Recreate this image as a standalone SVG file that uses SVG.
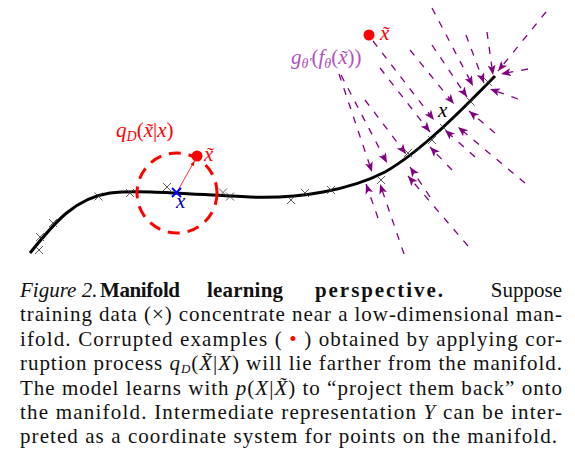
<svg xmlns="http://www.w3.org/2000/svg" width="575" height="463" viewBox="0 0 575 463">
<defs>
<marker id="ah" markerUnits="userSpaceOnUse" markerWidth="12" markerHeight="10" refX="10" refY="4" orient="auto">
<path d="M0,0 L10,4 L0,8 L2.5,4 z" fill="#800080"/>
</marker>
<marker id="ahr" markerUnits="userSpaceOnUse" markerWidth="6" markerHeight="6" refX="5" refY="2" orient="auto">
<path d="M0,0 L5,2 L0,4 z" fill="#ff0000"/>
</marker>
<style>
.proj{stroke:#800080;stroke-width:1.3;stroke-dasharray:7 8;fill:none;marker-end:url(#ah)}
.xm{stroke:#333;stroke-width:0.8;fill:none}
.cap{font-family:"Liberation Serif","DejaVu Serif",serif;font-size:21px;fill:#111}
.lbl{font-family:"Liberation Serif","DejaVu Serif",serif;font-size:21px}
.it{font-style:italic}
</style>
</defs>
<rect width="575" height="463" fill="#fff"/>

<g id="manifold">
<path d="M30,253 C55,222 75,198 110,193 C140,189 200,195 250,197 C300,199 350,190 385,172 C420,152 460,112 495,76" fill="none" stroke="#000" stroke-width="3"/>
</g>

<g id="training-points">
<path class="xm" d="M35,246l8,8m0,-8l-8,8 M36,233l8,8m0,-8l-8,8 M49,219l8,8m0,-8l-8,8 M94.5,192.5l8,8m0,-8l-8,8 M126,189l8,8m0,-8l-8,8 M163,183l8,8m0,-8l-8,8 M219,188.5l8,8m0,-8l-8,8 M226,192.5l8,8m0,-8l-8,8 M287,196l8,8m0,-8l-8,8 M301,189l8,8m0,-8l-8,8 M327,186l8,8m0,-8l-8,8 M377,176l8,8m0,-8l-8,8 M404,149l8,8m0,-8l-8,8 M428,136l8,8m0,-8l-8,8 M440,124l8,8m0,-8l-8,8 M466.5,97.5l8,8m0,-8l-8,8 M484,78l8,8m0,-8l-8,8"/>
</g>

<g id="corruption">
<circle cx="177" cy="193" r="40" fill="none" stroke="#ff0000" stroke-width="3" stroke-dasharray="12 8"/>
<line x1="177" y1="192" x2="194.5" y2="161" stroke="#ff0000" stroke-width="0.8" marker-end="url(#ahr)"/>
<circle cx="197" cy="156" r="5.5" fill="#ff0000"/>
<path d="M172,188l9,9m0,-9l-9,9" stroke="#0000ff" stroke-width="2" fill="none"/>
<text class="lbl it" x="176" y="208" fill="#0000aa">x</text>
<text class="lbl it" x="204" y="161" fill="#ff0000">x̃</text>
<text class="lbl" x="116" y="137" fill="#ff0000"><tspan class="it">q</tspan><tspan font-size="14" dy="4" class="it">D</tspan><tspan dy="-4">(</tspan><tspan class="it">x̃</tspan>|<tspan class="it">x</tspan>)</text>
</g>

<g id="corrupted-top">
<circle cx="369" cy="35" r="5.5" fill="#ff0000"/>
<text class="lbl it" x="380" y="40" fill="#ff0000">x̃</text>
</g>

<g id="reconstruction-label">
<text class="lbl" x="291" y="64" fill="#b050c0"><tspan class="it">g</tspan><tspan font-size="14" dy="4" class="it">θ′</tspan><tspan dy="-4">(</tspan><tspan class="it">f</tspan><tspan font-size="14" dy="4" class="it">θ</tspan><tspan dy="-4">(</tspan><tspan class="it">x̃</tspan>))</text>
<text class="lbl it" x="438" y="117" fill="#000">x</text>
</g>

<g id="connectors">
<line class="proj" x1="339" y1="74" x2="372" y2="172"/>
<line class="proj" x1="341" y1="75" x2="387" y2="163"/>
<line class="proj" x1="373" y1="41" x2="434" y2="120"/>
<line class="proj" x1="380" y1="68" x2="430" y2="132"/>
<line class="proj" x1="365" y1="100" x2="406" y2="154"/>
<line class="proj" x1="432" y1="45" x2="467" y2="97"/>
<line class="proj" x1="410" y1="50" x2="454" y2="104"/>
<line class="proj" x1="432" y1="8" x2="473" y2="86"/>
<line class="proj" x1="466" y1="35" x2="484" y2="83"/>
<line class="proj" x1="487" y1="32" x2="493" y2="75"/>
<line class="proj" x1="546" y1="12" x2="498" y2="71"/>
<line class="proj" x1="528" y1="69" x2="501" y2="74"/>
<line class="proj" x1="518" y1="99" x2="490" y2="89"/>
<line class="proj" x1="495" y1="133" x2="469" y2="111"/>
<line class="proj" x1="525" y1="183" x2="458" y2="127"/>
<line class="proj" x1="475" y1="157" x2="445" y2="130"/>
<line class="proj" x1="452" y1="170" x2="430" y2="147"/>
<line class="proj" x1="468" y1="246" x2="408" y2="176"/>
<line class="proj" x1="430" y1="197" x2="410" y2="167"/>
<line class="proj" x1="378" y1="218" x2="366" y2="184"/>
<line class="proj" x1="404" y1="254" x2="380" y2="184"/>
</g>

<g id="caption">
<text class="cap it" x="20" y="297">Figure 2.</text>
<text class="cap" x="100" y="297" font-weight="bold" textLength="80" lengthAdjust="spacing">Manifold</text>
<text class="cap" x="207" y="297" font-weight="bold" textLength="76" lengthAdjust="spacing">learning</text>
<text class="cap" x="315" y="297" font-weight="bold" textLength="128" lengthAdjust="spacing">perspective.</text>
<text class="cap" x="562" y="297" text-anchor="end">Suppose</text>
<text class="cap" x="20" y="321" textLength="542" lengthAdjust="spacing">training data (×) concentrate near a low-dimensional man-</text>
<text class="cap" x="20" y="346" textLength="542" lengthAdjust="spacing">ifold. Corrupted examples ( <tspan fill="#ff0000">•</tspan> ) obtained by applying cor-</text>
<text class="cap" x="20" y="370" textLength="542" lengthAdjust="spacing">ruption process <tspan class="it">q</tspan><tspan font-size="13" dy="3" class="it">D</tspan><tspan dy="-3">(</tspan><tspan class="it">X̃</tspan>|<tspan class="it">X</tspan>) will lie farther from the manifold.</text>
<text class="cap" x="20" y="395" textLength="542" lengthAdjust="spacing">The model learns with <tspan class="it">p</tspan>(<tspan class="it">X</tspan>|<tspan class="it">X̃</tspan>) to “project them back” onto</text>
<text class="cap" x="20" y="419" textLength="542" lengthAdjust="spacing">the manifold. Intermediate representation <tspan class="it">Y</tspan> can be inter-</text>
<text class="cap" x="20" y="443" textLength="537" lengthAdjust="spacing">preted as a coordinate system for points on the manifold.</text>
</g>
</svg>
